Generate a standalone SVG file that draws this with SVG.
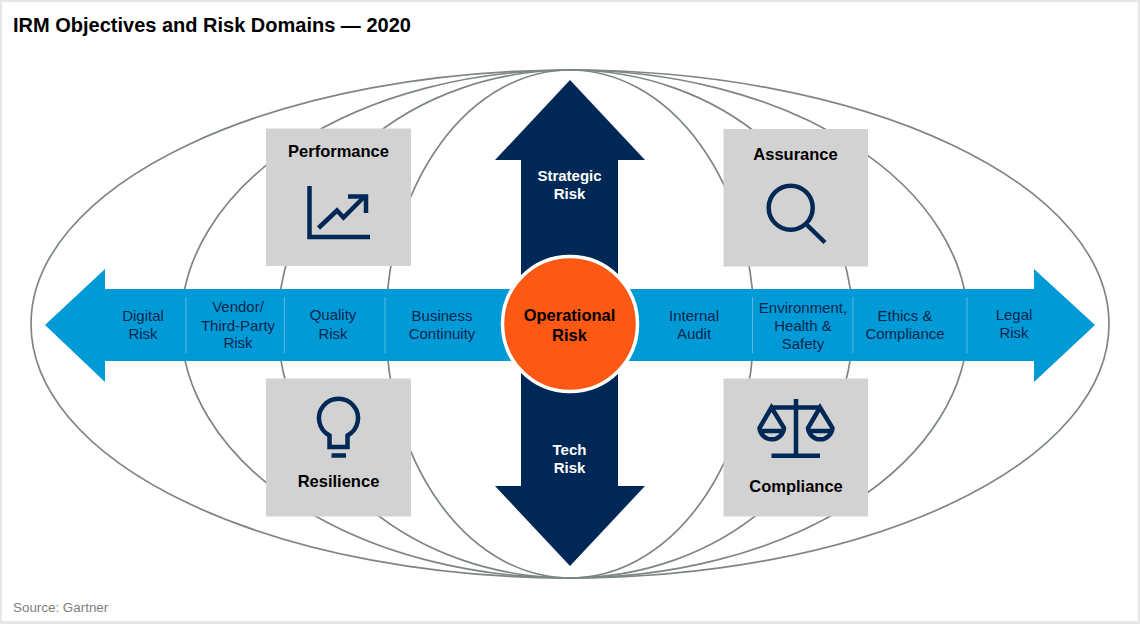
<svg xmlns="http://www.w3.org/2000/svg" width="1140" height="624" viewBox="0 0 1140 624">
<style>
text{font-family:"Liberation Sans",Arial,sans-serif;text-anchor:middle}
.orbit{fill:none;stroke:#7d8684;stroke-width:1.7}
.box{fill:#d2d2d2}
.head{font-size:16.5px;font-weight:bold;fill:#000}
.risk{font-size:15px;fill:#00264d}
.white{font-size:15px;font-weight:bold;fill:#fff}
.ic{fill:none;stroke:#002856;stroke-width:4.5}
.div{stroke:#5cb8e0;stroke-width:1}
</style>
<rect width="1140" height="624" fill="#e6e6e6"/>
<rect x="2" y="2" width="1136" height="619" fill="#fff"/>
<text x="13" y="32" style="text-anchor:start;font-size:20px;font-weight:bold;fill:#000">IRM Objectives and Risk Domains — 2020</text>
<text x="13" y="612" style="text-anchor:start;font-size:13.400px;fill:#808080">Source: Gartner</text>
<g id="connectors">
<path class="orbit" d="M570 70A539 254 0 0 0 570 578A539 254 0 0 0 570 70Z"/>
<path class="orbit" d="M570 70A389 254 0 0 0 570 578A398 254 0 0 0 570 70Z"/>
<path class="orbit" d="M570 70A292 254 0 0 0 570 578A283 254 0 0 0 570 70Z"/>
<path class="orbit" d="M570 70A184 254 0 0 0 570 578A184 254 0 0 0 570 70Z"/>
</g>
<g id="horizontal-axis">
<polygon points="45,325 105,269 105,289 1034,289 1034,269 1095,325 1034,382 1034,361 105,361 105,382" fill="#009ad7"/>
<line class="div" x1="186" y1="297" x2="186" y2="353"/>
<line class="div" x1="284.500" y1="297" x2="284.500" y2="353"/>
<line class="div" x1="385" y1="297" x2="385" y2="353"/>
<line class="div" x1="752.500" y1="297" x2="752.500" y2="353"/>
<line class="div" x1="853" y1="297" x2="853" y2="353"/>
<line class="div" x1="967" y1="297" x2="967" y2="353"/>
<text class="risk" x="143" y="321">Digital</text><text class="risk" x="143" y="339">Risk</text>
<text class="risk" x="238" y="312">Vendor/</text><text class="risk" x="238" y="331">Third-Party</text><text class="risk" x="238" y="348">Risk</text>
<text class="risk" x="333" y="320">Quality</text><text class="risk" x="333" y="339">Risk</text>
<text class="risk" x="442" y="321">Business</text><text class="risk" x="442" y="339">Continuity</text>
<text class="risk" x="694" y="321">Internal</text><text class="risk" x="694" y="339">Audit</text>
<text class="risk" x="803" y="313">Environment,</text><text class="risk" x="803" y="331">Health &amp;</text><text class="risk" x="803" y="349">Safety</text>
<text class="risk" x="905" y="321">Ethics &amp;</text><text class="risk" x="905" y="339">Compliance</text>
<text class="risk" x="1014" y="320">Legal</text><text class="risk" x="1014" y="338">Risk</text>
</g>
<g id="strategic-risk">
<polygon points="570,80 645,160 618,160 618,280 521,280 521,160 495,160" fill="#002856"/>
<text class="white" x="569.500" y="181">Strategic</text><text class="white" x="569.500" y="199">Risk</text>
</g>
<g id="tech-risk">
<polygon points="570,566 645,486 618,486 618,370 521,370 521,486 495,486" fill="#002856"/>
<text class="white" x="569.500" y="455">Tech</text><text class="white" x="569.500" y="473">Risk</text>
</g>
<g id="operational-risk">
<circle cx="570" cy="324" r="67.500" fill="#fe5815" stroke="#fff" stroke-width="3.500"/>
<text x="569.500" y="321" style="font-size:16.500px;font-weight:bold;fill:#000">Operational</text>
<text x="569.500" y="341" style="font-size:16.500px;font-weight:bold;fill:#000">Risk</text>
</g>
<g id="performance">
<rect class="box" x="266" y="128.500" width="145" height="137.500"/>
<text class="head" x="338.500" y="157">Performance</text>
<path class="ic" d="M309.500 186V237H370"/>
<path class="ic" d="M318.500 228L337 210.500 343.500 217.500 364 197"/>
<path class="ic" d="M348 196.500H366V213"/>
</g>
<g id="assurance">
<rect class="box" x="723.500" y="129" width="144.500" height="137.500"/>
<text class="head" x="795.500" y="160">Assurance</text>
<circle class="ic" cx="790.700" cy="207.700" r="22"/>
<path class="ic" d="M807 225L825 242.500"/>
</g>
<g id="resilience">
<rect class="box" x="266" y="378.500" width="145" height="138"/>
<path class="ic" d="M329.500 447V435.500A19.500 19.500 0 1 1 347.500 435.500V447Z"/>
<path class="ic" d="M331.500 455.500H346"/>
<text class="head" x="338.500" y="487">Resilience</text>
</g>
<g id="compliance">
<rect class="box" x="723.500" y="378.500" width="144.500" height="138"/>
<path class="ic" d="M796 399V455.700M771.500 455.700H820M771.500 407.500H820"/>
<path class="ic" d="M771.500 407.500L759.500 428A12.300 12.500 0 0 0 784 428ZM759.500 431H784"/>
<path class="ic" d="M820 407.500L808 428A12.300 12.500 0 0 0 832.500 428ZM808 431H832.500"/>
<text class="head" x="796" y="492">Compliance</text>
</g>
</svg>
